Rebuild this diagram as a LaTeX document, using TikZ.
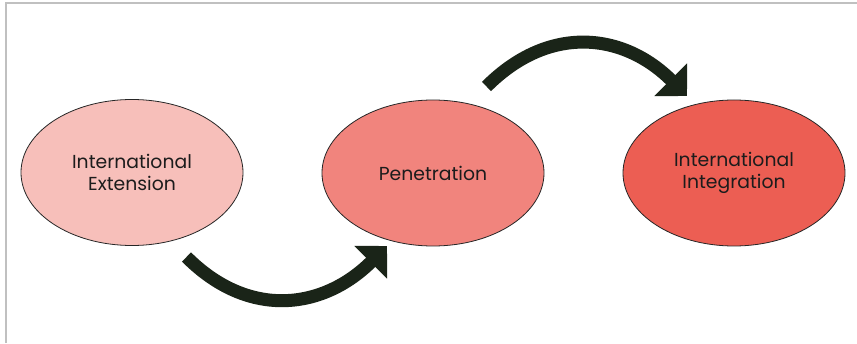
\documentclass[tikz,border=0pt]{standalone}
\usepackage{fontspec}
\setmainfont{Poppins}
\usetikzlibrary{shapes.geometric,arrows.meta}

\definecolor{frameGray}{HTML}{C0C0C0}
\definecolor{stageOne}{HTML}{F7BFBA}
\definecolor{stageTwo}{HTML}{F1847D}
\definecolor{stageThree}{HTML}{EC5E53}
\definecolor{arrowDark}{HTML}{1A2418}
\definecolor{labelInk}{HTML}{1C1C1C}

\tikzset{
  stage/.style={ellipse, draw=black!85, line width=0.8pt,
    minimum width=222pt, minimum height=146pt, inner sep=0pt,
    align=center, text=labelInk,
    font=\fontsize{18.8}{22}\selectfont},
  bigarrow/.style={draw=arrowDark, line width=13pt,
    -{Triangle[length=23pt,width=45pt]}}
}

\begin{document}
\begin{tikzpicture}[x=1pt,y=1pt]
  \useasboundingbox (0,0) rectangle (857,343);
  \fill[white] (0,0) rectangle (857,343);

  % page frame (top and left edges)
  \draw[frameGray, line width=2pt] (6,0) -- (6,340) -- (857,340);

  % the three stages
  \node[stage, fill=stageOne]   (ext) at (132,170.5) {International\\Extension};
  \node[stage, fill=stageTwo]   (pen) at (433,170)   {Penetration};
  \node[stage, fill=stageThree] (int) at (734,170)   {International\\Integration};

  % arrow ends
  \coordinate (lowTail) at (186.5,86);
  \coordinate (lowTip)  at (387,97);
  \coordinate (upTail)  at (486.5,256.5);
  \coordinate (upTip)   at (687,247);

  % curved arrows between stages
  \draw[bigarrow] (lowTail) .. controls (249.5,23) and (324,34) .. (lowTip);
  \draw[bigarrow] (upTail) .. controls (549.5,319.5) and (624,310) .. (upTip);
\end{tikzpicture}
\end{document}
